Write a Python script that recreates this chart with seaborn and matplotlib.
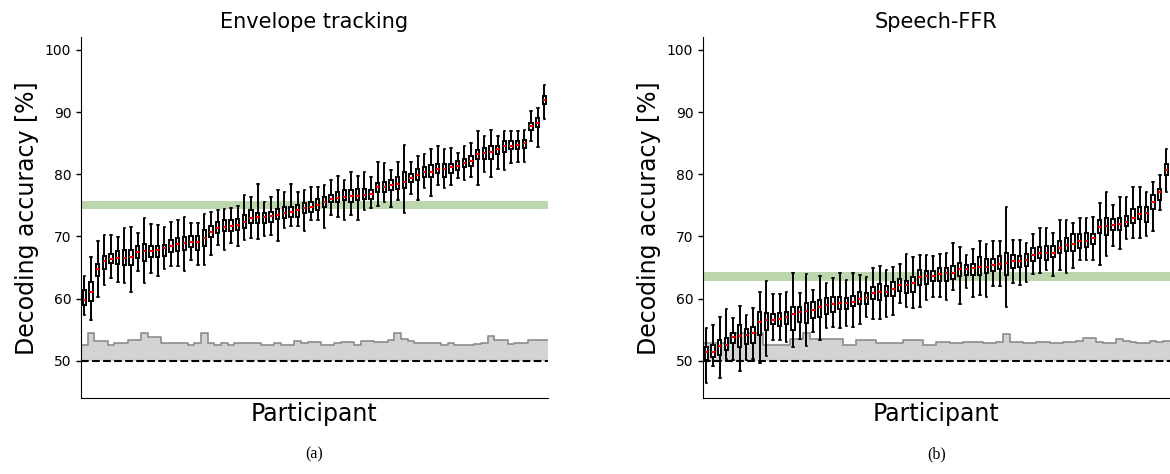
import numpy as np
import pandas as pd
import seaborn as sns
import matplotlib.pyplot as plt

#%% data: per participant box stats (lower whisker, q1, median, q3, upper whisker)

env_lo = [57.3, 56.6, 60.3, 62.2, 63.3, 62.6, 62.5, 61.1, 64.5, 62.5, 64.2, 63.7, 64.7, 65.2, 65.3, 64.4, 66.2, 65.4,
          65.4, 67.0, 68.6, 67.9, 69.0, 68.4, 69.5, 69.7, 69.6, 70.1, 70.3, 69.2, 71.3, 71.7, 71.7, 70.9, 72.6, 72.7,
          71.3, 73.5, 73.2, 72.6, 73.5, 72.6, 74.3, 74.5, 74.9, 75.5, 74.8, 75.9, 73.8, 76.8, 75.9, 77.8, 76.5, 78.3,
          77.8, 78.3, 79.4, 79.0, 79.5, 78.3, 80.4, 79.6, 80.8, 80.7, 81.8, 81.9, 82.0, 85.4, 84.4, 88.9]
env_q1 = [59.0, 59.6, 63.6, 64.7, 65.7, 65.6, 65.4, 65.4, 66.5, 66.0, 66.7, 66.7, 66.8, 67.5, 67.6, 67.8, 68.3, 67.9,
          68.4, 69.9, 70.6, 70.8, 70.8, 71.1, 71.3, 72.2, 72.1, 72.1, 72.4, 72.8, 72.9, 73.2, 73.1, 73.8, 74.0, 74.3,
          74.8, 75.6, 75.6, 75.9, 75.6, 75.9, 76.0, 76.0, 77.2, 77.1, 77.4, 77.6, 77.8, 78.7, 79.0, 79.5, 79.5, 80.2,
          79.6, 80.2, 80.7, 81.2, 81.4, 82.4, 82.4, 82.4, 83.3, 83.6, 84.0, 84.0, 84.2, 87.1, 87.6, 91.3]
env_med = [59.8, 61.0, 64.7, 66.1, 66.4, 66.6, 66.6, 66.7, 67.5, 67.6, 67.7, 67.8, 68.2, 68.5, 68.8, 68.9, 69.1, 69.1,
           69.7, 70.7, 71.3, 71.6, 71.7, 71.9, 72.4, 72.9, 73.1, 73.2, 73.3, 73.5, 73.7, 73.9, 74.3, 74.5, 74.8, 75.1,
           75.5, 76.1, 76.2, 76.4, 76.5, 76.5, 76.6, 76.8, 77.9, 77.9, 78.2, 78.5, 78.7, 79.4, 79.9, 80.3, 80.4, 80.8,
           80.8, 81.1, 81.4, 81.8, 82.2, 83.2, 83.4, 83.6, 84.0, 84.5, 84.6, 84.7, 85.0, 87.7, 88.3, 92.0]
env_q3 = [61.4, 62.7, 65.6, 66.8, 67.2, 67.6, 67.8, 67.8, 68.5, 68.8, 68.5, 68.4, 68.6, 69.5, 69.7, 69.9, 70.1, 70.0,
          71.1, 71.7, 72.4, 72.6, 72.6, 72.8, 73.5, 74.2, 73.8, 73.8, 74.0, 74.4, 74.7, 74.7, 75.0, 75.4, 75.6, 76.0,
          76.4, 76.7, 77.2, 77.4, 77.5, 77.6, 77.6, 77.5, 78.6, 78.8, 79.1, 79.6, 80.3, 80.1, 80.8, 81.1, 81.5, 81.7,
          81.7, 81.7, 82.2, 82.4, 83.0, 83.9, 84.2, 84.5, 84.6, 85.4, 85.4, 85.4, 85.5, 88.3, 89.0, 92.6]
env_hi = [63.7, 66.7, 69.3, 70.3, 70.3, 69.9, 71.3, 71.6, 70.6, 72.9, 72.0, 71.9, 71.6, 72.4, 72.6, 73.2, 72.1, 72.2,
          73.6, 74.0, 74.3, 74.4, 74.6, 74.9, 76.7, 76.3, 78.5, 75.6, 76.3, 77.5, 77.1, 78.5, 77.2, 77.4, 77.9, 77.9,
          78.3, 79.1, 79.7, 79.0, 80.3, 79.7, 80.3, 79.5, 82.0, 81.8, 80.7, 81.9, 84.7, 81.9, 83.0, 83.3, 84.0, 84.6,
          84.0, 84.2, 83.4, 84.5, 85.0, 87.0, 86.2, 87.1, 86.2, 86.9, 86.9, 87.0, 87.1, 90.1, 90.6, 94.4]
env_chance = [52.5, 54.5, 53.2, 53.2, 52.6, 52.8, 52.8, 53.3, 53.3, 54.4, 53.8, 53.8, 52.8, 52.8, 52.8, 52.8, 52.6, 52.8,
              54.5, 52.8, 52.6, 52.8, 52.5, 52.9, 52.9, 52.9, 52.9, 52.6, 52.6, 52.8, 52.6, 52.6, 53.2, 52.8, 53.1, 53.1,
              52.6, 52.6, 52.9, 53.1, 53.1, 52.6, 53.2, 53.2, 53.1, 53.1, 53.3, 54.5, 53.5, 53.2, 52.9, 52.9, 52.9, 52.9,
              52.6, 52.8, 52.6, 52.6, 52.6, 52.7, 52.9, 54.0, 53.3, 53.3, 52.7, 52.9, 52.9, 53.3, 53.3, 53.3]
env_band = (74.4, 75.7)

ffr_lo = [46.5, 49.1, 47.2, 50.3, 50.2, 48.3, 50.2, 50.3, 49.7, 50.8, 53.4, 53.4, 53.1, 52.3, 53.5, 52.4, 54.7, 53.3,
          55.3, 55.4, 55.3, 55.6, 55.4, 56.0, 57.1, 56.7, 56.8, 57.1, 57.4, 59.3, 58.7, 58.5, 58.7, 59.8, 60.3, 60.2,
          59.8, 61.4, 59.2, 61.7, 60.2, 60.6, 60.3, 62.1, 62.0, 58.7, 62.5, 62.2, 62.7, 64.0, 64.2, 64.6, 63.7, 64.6,
          64.2, 64.9, 66.2, 66.2, 66.2, 65.4, 66.8, 68.5, 68.0, 69.6, 69.7, 69.7, 70.1, 70.8, 74.2, 77.1]
ffr_q1 = [50.2, 50.6, 51.0, 51.8, 52.9, 52.2, 52.7, 52.8, 54.2, 55.0, 55.9, 55.6, 55.9, 54.9, 56.3, 56.1, 56.9, 57.1,
          57.6, 57.8, 58.3, 58.3, 58.8, 59.2, 59.2, 59.9, 59.8, 60.4, 60.4, 61.3, 60.9, 61.1, 62.2, 62.4, 62.9, 62.9,
          62.9, 63.1, 63.6, 63.8, 63.8, 63.8, 64.2, 64.5, 64.7, 63.8, 64.9, 65.1, 65.3, 66.1, 66.5, 66.2, 66.7, 67.4,
          67.6, 67.7, 68.1, 68.3, 68.8, 70.6, 70.3, 71.1, 71.1, 71.7, 72.1, 72.8, 72.4, 74.4, 75.9, 79.9]
ffr_med = [51.5, 51.5, 52.4, 52.6, 53.8, 54.0, 54.2, 54.5, 56.2, 56.5, 56.6, 56.7, 57.0, 57.6, 57.8, 58.0, 58.2, 58.6,
           59.0, 59.2, 59.3, 59.3, 59.5, 59.9, 60.1, 60.9, 61.1, 61.1, 61.5, 62.2, 62.2, 62.5, 63.5, 63.6, 63.7, 64.0,
           64.1, 64.1, 64.7, 64.7, 64.9, 65.1, 65.1, 65.4, 65.6, 65.8, 66.0, 66.0, 66.2, 67.0, 67.3, 67.4, 67.4, 68.1,
           68.6, 68.8, 69.2, 69.3, 69.7, 71.5, 71.7, 71.9, 72.0, 72.4, 72.9, 73.6, 73.7, 75.5, 77.1, 80.7]
ffr_q3 = [52.3, 52.6, 53.4, 53.6, 54.5, 55.8, 55.1, 55.5, 57.8, 57.7, 57.6, 57.7, 57.8, 58.7, 58.6, 59.3, 59.5, 59.8,
          60.1, 60.3, 60.2, 60.1, 60.4, 61.1, 60.9, 61.9, 62.4, 62.1, 62.6, 63.1, 62.9, 63.5, 64.6, 64.4, 64.5, 64.9,
          64.9, 65.3, 65.8, 65.4, 65.6, 66.7, 66.3, 66.4, 66.9, 67.4, 67.0, 66.8, 67.2, 68.1, 68.3, 68.5, 68.4, 69.2,
          69.7, 70.4, 70.4, 70.5, 70.4, 72.7, 72.9, 72.8, 72.9, 73.3, 74.4, 74.7, 74.7, 76.7, 77.6, 81.7]
ffr_hi = [55.3, 55.8, 57.1, 58.3, 56.9, 58.8, 57.4, 58.5, 61.1, 62.9, 60.8, 60.7, 61.1, 64.1, 60.9, 64.0, 61.4, 63.6,
          62.5, 63.3, 64.2, 63.0, 64.1, 63.8, 63.5, 64.9, 65.2, 64.6, 65.1, 65.6, 67.2, 66.7, 67.0, 67.0, 66.8, 67.2,
          67.4, 68.9, 68.3, 67.0, 68.0, 69.2, 68.8, 69.3, 69.2, 74.7, 69.5, 69.4, 69.0, 70.4, 71.3, 71.4, 70.6, 72.6,
          72.7, 72.2, 72.9, 72.9, 73.2, 75.4, 77.2, 75.1, 76.3, 76.3, 77.9, 77.9, 77.2, 78.7, 79.9, 84.0]
ffr_chance = [52.9, 52.9, 52.9, 52.9, 54.5, 54.5, 54.5, 54.5, 54.5, 52.5, 52.5, 52.5, 52.5, 53.5, 53.5, 54.5, 53.5, 53.5,
              53.5, 53.5, 53.5, 52.6, 52.6, 53.4, 53.4, 53.4, 52.9, 52.9, 52.9, 52.9, 53.4, 53.4, 53.4, 52.6, 52.6, 53.0,
              53.0, 52.8, 52.8, 53.0, 53.0, 53.1, 52.9, 52.9, 53.0, 54.3, 53.1, 53.1, 52.8, 52.8, 53.0, 53.0, 52.9, 52.9,
              53.1, 53.1, 53.2, 53.6, 53.6, 53.0, 52.9, 52.9, 53.5, 53.2, 53.0, 52.9, 52.9, 53.2, 53.0, 53.2]
ffr_band = (62.8, 64.3)

titles = ["Envelope tracking", "Speech-FFR"]
captions = ["(a)", "(b)"]


def make_long(lo, q1, med, q3, hi):
    # five points per participant reproduce the box exactly with whis=(0, 100)
    arr = np.column_stack([lo, q1, med, q3, hi])
    df = pd.DataFrame(arr)
    df["participant"] = np.arange(len(lo))
    return df.melt(id_vars="participant", value_name="acc")


panels = [
    (make_long(env_lo, env_q1, env_med, env_q3, env_hi), env_chance, env_band),
    (make_long(ffr_lo, ffr_q1, ffr_med, ffr_q3, ffr_hi), ffr_chance, ffr_band),
]

#%% plot

sns.set_style("ticks")
plt.rcParams["font.family"] = ["DejaVu Sans"]
for key in ["text.color", "axes.labelcolor", "xtick.color", "ytick.color", "axes.edgecolor"]:
    plt.rcParams[key] = "black"

fig = plt.figure(figsize=(11.7, 4.74), dpi=100)
lefts = [81 / 1170, 703 / 1170]

for k, (df, chance, band) in enumerate(panels):
    ax = fig.add_axes([lefts[k], 0.160, 0.399, 0.761])
    n = len(chance)
    edges = np.arange(n + 1) - 0.5
    vals = np.append(chance, chance[-1])

    ax.axhspan(band[0], band[1], color="#bcd6ad", zorder=0.3, lw=0)
    ax.fill_between(edges, 50, vals, step="post", color="#d3d3d3", zorder=0.5, lw=0)
    ax.step(edges, vals, where="post", color="#8c8c8c", lw=1.2, zorder=0.6)
    ax.axhline(50, color="black", ls="--", lw=1.5, zorder=0.7)

    sns.boxplot(data=df, x="participant", y="acc", ax=ax, whis=(0, 100), width=0.5,
                color="white", linecolor="black", linewidth=1.4, showfliers=False,
                medianprops={"color": "red", "linewidth": 1.5})

    ax.set_xlim(-0.5, n - 0.5)
    ax.set_ylim(44, 102)
    ax.set_yticks([50, 60, 70, 80, 90, 100])
    ax.set_xticks([])
    ax.tick_params(axis="y", labelsize=10, width=1)
    ax.set_xlabel("Participant", fontsize=17, labelpad=3)
    ax.set_ylabel("Decoding accuracy [%]", fontsize=17)
    ax.set_title(titles[k], fontsize=15, pad=7)
    sns.despine(ax=ax)

    fig.text(lefts[k] + 0.1995, 0.025, captions[k], ha="center", va="bottom",
             fontsize=11.5, family=["Liberation Serif", "DejaVu Serif"])

fig.savefig("out.png", dpi=100)
